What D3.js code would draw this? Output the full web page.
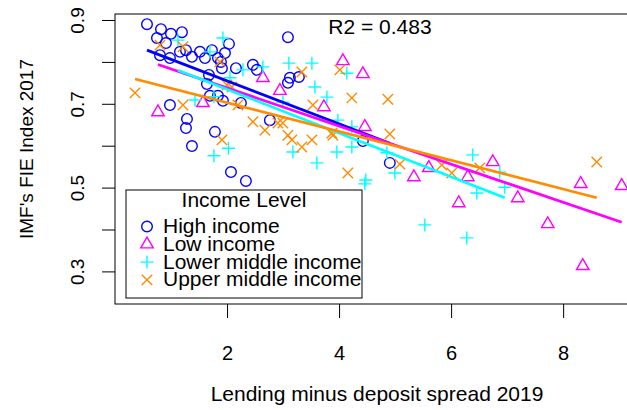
<!DOCTYPE html>
<html>
<head>
<meta charset="utf-8">
<script src="https://cdn.jsdelivr.net/npm/d3@7/dist/d3.min.js"></script>
<style>
  html, body { margin: 0; padding: 0; background: #fff; }
  svg { display: block; font-family: "Liberation Sans", Arial, Helvetica, sans-serif; }
</style>
</head>
<body>
<svg id="chart" width="627" height="410"></svg>
<script>
// Income groups, in legend order
const groups = ["High income", "Low income", "Lower middle income", "Upper middle income"];
const groupColors = ["#0000ff", "#ff00ff", "#00ffff", "#ff8c00"];

// Lending minus deposit spread 2019 (x) and IMF FIE Index 2017 (y), per group
const highX = [0.571, 0.821, 0.999, 1.195, 0.749, 0.910, 0.803, 0.981, 1.160, 1.267, 1.374, 1.517, 1.606, 1.731,
  1.838, 1.963, 2.034, 1.891, 2.159, 2.462, 2.533, 1.677, 1.641, 3.087, 3.087, 3.122, 3.283, 0.981, 1.285, 1.267,
  1.374, 1.784, 2.070, 2.337, 1.695, 1.838, 1.927, 2.248, 2.765, 4.425, 4.906, 1.909];
const highY = [0.890, 0.878, 0.867, 0.871, 0.857, 0.845, 0.816, 0.809, 0.824, 0.828, 0.812, 0.824, 0.809, 0.828,
  0.809, 0.821, 0.843, 0.800, 0.785, 0.793, 0.781, 0.769, 0.747, 0.859, 0.750, 0.762, 0.764, 0.697, 0.664, 0.642,
  0.599, 0.633, 0.537, 0.516, 0.719, 0.719, 0.707, 0.702, 0.661, 0.611, 0.559, 0.785];

const lowX = [4.068, 4.425, 3.729, 4.460, 5.335, 5.602, 6.298, 6.744, 6.137, 7.190, 8.314, 9.046, 7.725, 8.350,
  2.640, 2.944, 1.570, 0.767];
const lowY = [0.802, 0.771, 0.692, 0.645, 0.525, 0.547, 0.525, 0.561, 0.463, 0.475, 0.509, 0.504, 0.413, 0.313,
  0.762, 0.731, 0.702, 0.680];

const lowerMidX = [1.124, 1.927, 1.695, 2.640, 2.284, 2.052, 1.428, 1.766, 1.766, 2.025, 3.176, 2.997, 3.104,
  3.515, 3.568, 3.783, 4.139, 3.979, 4.228, 4.228, 3.961, 3.604, 4.478, 4.460, 4.996, 4.853, 6.387, 6.869, 6.958,
  6.459, 5.531, 6.280];
const lowerMidY = [0.852, 0.857, 0.824, 0.788, 0.781, 0.762, 0.709, 0.717, 0.576, 0.594, 0.585, 0.704, 0.797,
  0.797, 0.740, 0.716, 0.773, 0.661, 0.645, 0.597, 0.585, 0.559, 0.518, 0.509, 0.535, 0.583, 0.578, 0.537, 0.501,
  0.487, 0.411, 0.380];

const upperMidX = [0.357, 0.803, 1.213, 1.213, 1.873, 1.998, 2.087, 2.195, 2.462, 2.676, 2.908, 3.087, 1.909,
  3.336, 3.336, 4.014, 4.228, 4.871, 3.533, 4.906, 3.515, 3.872, 3.890, 4.157, 5.085, 5.834, 6.012, 6.512, 8.600,
  2.997, 3.158];
const upperMidY = [0.726, 0.840, 0.836, 0.697, 0.800, 0.745, 0.740, 0.697, 0.657, 0.637, 0.654, 0.625, 0.614,
  0.597, 0.776, 0.781, 0.714, 0.711, 0.697, 0.628, 0.614, 0.630, 0.625, 0.535, 0.556, 0.554, 0.535, 0.547, 0.561,
  0.654, 0.614];

// Fitted linear trend per group (slope, intercept)
const fitSlope = [-0.0513, -0.0455, -0.0522, -0.0344];
const fitIntercept = [0.8574, 0.8289, 0.8390, 0.7715];

// Axis ticks
const xTicks = [2, 4, 6, 8];
const yTicks = [0.3, 0.4, 0.5, 0.6, 0.7, 0.8, 0.9];
const yTickLabels = ["0.3", "", "0.5", "", "0.7", "", "0.9"];

const r2Label = "R2 = 0.483";

const seriesX = [highX, lowX, lowerMidX, upperMidX];
const seriesY = [highY, lowY, lowerMidY, upperMidY];

const svg = d3.select("#chart");
svg.append("rect").attr("width", 627).attr("height", 410).attr("fill", "#fff");

const plot = { left: 115, right: 655, top: 14, bottom: 304 };
const x = d3.scaleLinear().domain([0, 9.64]).range([plot.left, plot.right]);
const y = d3.scaleLinear().domain([0.2222, 0.9143]).range([plot.bottom, plot.top]);

// Marker shapes: open circle, open triangle, plus, cross
const tri = d3.symbol().type(d3.symbolTriangle).size(68)();
const shapes = [
  null,
  tri,
  "M-6.5,0H6.5M0,-6.5V6.5",
  "M-5.2,-5.2L5.2,5.2M-5.2,5.2L5.2,-5.2"
];

function drawMarker(g, gi, cx, cy) {
  const col = groupColors[gi];
  if (gi === 0) {
    g.append("circle").attr("cx", cx).attr("cy", cy).attr("r", 5.3)
      .attr("fill", "none").attr("stroke", col).attr("stroke-width", 1.4);
  } else {
    g.append("path").attr("d", shapes[gi]).attr("transform", `translate(${cx},${cy})`)
      .attr("fill", "none").attr("stroke", col).attr("stroke-width", 1.4);
  }
}

// Points
const pts = svg.append("g");
seriesX.forEach((xs, gi) => {
  xs.forEach((v, i) => drawMarker(pts, gi, x(v), y(seriesY[gi][i])));
});

// Trend lines over each group's x-range
const line = d3.line().x(d => x(d[0])).y(d => y(d[1]));
seriesX.forEach((xs, gi) => {
  const [lo, hi] = d3.extent(xs);
  const seg = [lo, hi].map(v => [v, fitIntercept[gi] + fitSlope[gi] * v]);
  svg.append("path").attr("d", line(seg)).attr("fill", "none")
    .attr("stroke", groupColors[gi]).attr("stroke-width", 2.7);
});

// Plot frame
svg.append("rect").attr("x", plot.left).attr("y", plot.top)
  .attr("width", plot.right - plot.left).attr("height", plot.bottom - plot.top)
  .attr("fill", "none").attr("stroke", "#000").attr("stroke-width", 1);

// X axis
const xAxis = svg.append("g").attr("transform", `translate(0,${plot.bottom})`)
  .call(d3.axisBottom(x).tickValues(xTicks).tickSize(14).tickPadding(0).tickFormat(d3.format("d")));
xAxis.select(".domain").remove();
xAxis.selectAll("line").attr("stroke", "#000");
xAxis.selectAll("text").attr("fill", "#000").attr("font-size", 20)
  .attr("font-family", "Liberation Sans, Arial, sans-serif").attr("dy", null).attr("y", 56);

// Y axis
const yAxis = svg.append("g").attr("transform", `translate(${plot.left},0)`)
  .call(d3.axisLeft(y).tickValues(yTicks).tickSize(13).tickFormat((d, i) => yTickLabels[i]));
yAxis.select(".domain").remove();
yAxis.selectAll("line").attr("stroke", "#000");
yAxis.selectAll("text").attr("fill", "#000").attr("font-size", 19)
  .attr("font-family", "Liberation Sans, Arial, sans-serif")
  .attr("x", null).attr("dy", null).attr("text-anchor", "middle")
  .attr("transform", "translate(-31,0) rotate(-90)");

// Axis titles
svg.append("text").attr("x", 377).attr("y", 401).attr("text-anchor", "middle")
  .attr("font-size", 21).text("Lending minus deposit spread 2019");
svg.append("text").attr("transform", "translate(33,149) rotate(-90)").attr("text-anchor", "middle")
  .attr("font-size", 19).text("IMF's FIE Index 2017");

// R-squared annotation
svg.append("text").attr("x", 380).attr("y", 34).attr("text-anchor", "middle")
  .attr("font-size", 21).text(r2Label);

// Legend
const lg = svg.append("g");
lg.append("rect").attr("x", 126).attr("y", 190).attr("width", 236).attr("height", 108)
  .attr("fill", "#fff").attr("stroke", "#000").attr("stroke-width", 1);
lg.append("text").attr("x", 244).attr("y", 207).attr("text-anchor", "middle")
  .attr("font-size", 21).text("Income Level");
groups.forEach((name, gi) => {
  const by = 233 + gi * 17.8;
  drawMarker(lg, gi, 147, by - 6.5);
  lg.append("text").attr("x", 163).attr("y", by).attr("font-size", 21).text(name);
});
</script>
</body>
</html>
